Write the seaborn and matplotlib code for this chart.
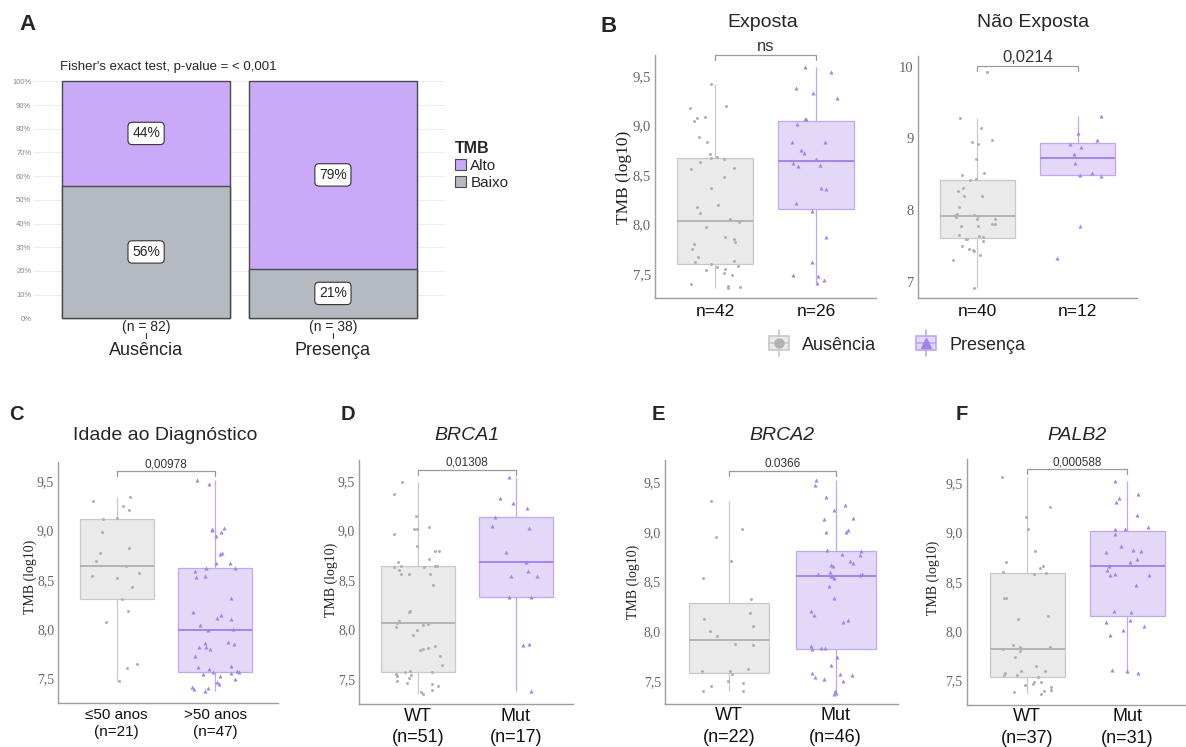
import numpy as np
import pandas as pd
import matplotlib
matplotlib.use("Agg")
import matplotlib.pyplot as plt
import seaborn as sns
from matplotlib.patches import Patch, Rectangle
from matplotlib.lines import Line2D
from matplotlib.legend_handler import HandlerBase
import matplotlib.transforms as mtrans

# ---------------- data ----------------
# Panel A
a_groups = ["Ausência", "Presença"]
a_n = [82, 38]
a_alto = [44, 79]
a_baixo = [56, 21]
a_ticks = list(range(0, 101, 10))
a_title = "Fisher's exact test, p-value = < 0,001"

# Panel B
b_groups = ["Ausência", "Presença"]
exp_aus = [9.42, 9.20, 9.18, 9.08, 9.07, 9.04, 8.88, 8.83, 8.71, 8.68, 8.67, 8.66, 8.63, 8.57,
           8.56, 8.48, 8.37, 8.20, 8.18, 8.12, 8.06, 8.02, 7.97, 7.87, 7.85, 7.82, 7.80, 7.75,
           7.67, 7.63, 7.62, 7.60, 7.58, 7.57, 7.55, 7.54, 7.51, 7.49, 7.40, 7.38, 7.37, 7.36]
exp_pre = [9.59, 9.54, 9.38, 9.33, 9.28, 9.06, 9.06, 9.01, 8.83, 8.83, 8.75, 8.72, 8.66, 8.62,
           8.60, 8.59, 8.37, 8.36, 8.22, 8.14, 7.87, 7.62, 7.49, 7.48, 7.44, 7.41]
nexp_aus = [6.91, 7.30, 7.37, 7.43, 7.44, 7.46, 7.49, 7.57, 7.59, 7.60, 7.62, 7.63, 7.65, 7.77,
            7.78, 7.80, 7.81, 7.87, 7.88, 7.90, 7.92, 7.93, 7.93, 7.95, 8.04, 8.20, 8.20, 8.27,
            8.30, 8.42, 8.43, 8.49, 8.52, 8.71, 8.92, 8.95, 8.98, 9.14, 9.29, 9.93]
nexp_pre = [9.31, 9.08, 8.98, 8.92, 8.88, 8.78, 8.66, 8.51, 8.49, 8.47, 7.77, 7.33]
b_p = ["ns", "0,0214"]
b_titles = ["Exposta", "Não Exposta"]
b_ticks_exp = [7.5, 8.0, 8.5, 9.0, 9.5]
b_ticks_nexp = [7, 8, 9, 10]

# Panel C
c_groups = ["≤50 anos", ">50 anos"]
age_le50 = [9.34, 9.30, 9.25, 9.21, 9.13, 9.12, 8.99, 8.82, 8.77, 8.69, 8.64, 8.57, 8.54, 8.52,
            8.43, 8.31, 8.18, 8.07, 7.65, 7.60, 7.47]
age_gt50 = [9.51, 9.47, 9.03, 9.02, 9.01, 8.99, 8.95, 8.77, 8.76, 8.67, 8.67, 8.62, 8.62, 8.59,
            8.54, 8.53, 8.32, 8.17, 8.14, 8.11, 8.10, 8.04, 8.00, 7.99, 7.87, 7.86, 7.85, 7.82,
            7.82, 7.80, 7.73, 7.62, 7.61, 7.59, 7.57, 7.56, 7.56, 7.55, 7.54, 7.52, 7.49, 7.46,
            7.44, 7.41, 7.40, 7.39, 7.37]

# Panels D-F
gene_groups = ["WT", "Mut"]
brca1_wt = [9.49, 9.37, 9.15, 9.03, 9.01, 9.01, 8.96, 8.84, 8.79, 8.79, 8.71, 8.68, 8.64, 8.64,
            8.64, 8.63, 8.63, 8.60, 8.56, 8.56, 8.56, 8.45, 8.19, 8.18, 8.09, 8.07, 8.06, 8.05,
            8.03, 8.00, 7.95, 7.84, 7.82, 7.81, 7.80, 7.73, 7.64, 7.58, 7.575, 7.57, 7.55, 7.54,
            7.53, 7.51, 7.48, 7.46, 7.45, 7.43, 7.39, 7.37, 7.35]
brca1_mut = [9.54, 9.33, 9.28, 9.23, 9.14, 9.04, 9.02, 8.78, 8.68, 8.59, 8.54, 8.54, 8.33, 8.33,
             7.86, 7.85, 7.38]
brca2_wt = [9.31, 9.03, 8.95, 8.71, 8.54, 8.32, 8.18, 8.12, 8.05, 8.00, 7.95, 7.87, 7.86, 7.62,
            7.60, 7.60, 7.57, 7.50, 7.48, 7.45, 7.40, 7.40]
brca2_mut = [9.52, 9.47, 9.35, 9.27, 9.22, 9.14, 9.13, 9.02, 9.00, 9.00, 8.82, 8.81, 8.78, 8.77,
             8.71, 8.69, 8.67, 8.66, 8.60, 8.58, 8.58, 8.57, 8.56, 8.56, 8.54, 8.45, 8.33, 8.20,
             8.16, 8.11, 8.09, 7.85, 7.83, 7.83, 7.82, 7.74, 7.66, 7.58, 7.57, 7.56, 7.54, 7.52,
             7.50, 7.40, 7.38, 7.37]
palb2_wt = [7.36, 7.38, 7.39, 7.40, 7.43, 7.45, 7.46, 7.48, 7.48, 7.53, 7.55, 7.55, 7.57, 7.59,
            7.59, 7.64, 7.73, 7.80, 7.82, 7.84, 7.84, 7.86, 8.12, 8.15, 8.34, 8.34, 8.58, 8.59,
            8.60, 8.64, 8.66, 8.70, 8.81, 9.04, 9.16, 9.26, 9.57]
palb2_mut = [9.53, 9.39, 9.35, 9.31, 9.18, 9.06, 9.04, 9.04, 8.99, 8.86, 8.82, 8.81, 8.80, 8.73,
             8.70, 8.66, 8.62, 8.58, 8.57, 8.57, 8.47, 8.20, 8.19, 8.11, 8.09, 8.05, 8.01, 7.96,
             7.60, 7.59, 7.57]
cf_titles = ["Idade ao Diagnóstico", "BRCA1", "BRCA2", "PALB2"]
cf_p = ["0,00978", "0,01308", "0.0366", "0,000588"]
cf_ticks = [7.5, 8.0, 8.5, 9.0, 9.5]

# ---------------- style ----------------
W, H = 1186, 747
sns.set_theme(style="white")
SANS = ["Liberation Sans", "DejaVu Sans"]
SERIF = ["Liberation Serif", "DejaVu Serif"]
plt.rcParams["font.family"] = SANS

ALTO = "#C9A9F8"
BAIXO = "#B5B9C2"
EDGE = "#4A4A4A"
GRAY = dict(fill="#EAEAEA", edge="#C9C9C9", med="#B0B0B0", pt="#B2B2B2", marker="o", size=2.2)
PURP = dict(fill="#E4D8F8", edge="#C2A6F3", med="#A27DEB", pt="#A084EA", marker="^", size=2.9)

fig = plt.figure(figsize=(W / 100, H / 100), dpi=100)


def add_ax(l, t, r, b):
    return fig.add_axes([l / W, 1 - b / H, (r - l) / W, (b - t) / H])


def fx(px):
    return px / W


def fy(py):
    return 1 - py / H


def comma(v, fmt="{:.1f}"):
    return fmt.format(v).replace(".", ",")


# ---------------- Panel A ----------------
axA = add_ax(34, 81.3, 445, 318.3)
dfA = pd.DataFrame({"grupo": a_groups, "alto": a_alto, "baixo": a_baixo})
dfA["total"] = dfA["alto"] + dfA["baixo"]
sns.barplot(data=dfA, x="grupo", y="total", order=a_groups, color=ALTO, saturation=1,
            width=0.9, edgecolor=EDGE, linewidth=1.0, errorbar=None, ax=axA,
            clip_on=False, zorder=2)
sns.barplot(data=dfA, x="grupo", y="baixo", order=a_groups, color=BAIXO, saturation=1,
            width=0.9, edgecolor=EDGE, linewidth=1.0, errorbar=None, ax=axA,
            clip_on=False, zorder=3)
axA.set_xlim(-0.6, 1.6)
axA.set_ylim(0, 100)
axA.set_yticks(a_ticks)
axA.set_yticklabels([f"{t}%" for t in a_ticks])
axA.grid(axis="y", color="#EDEDED", lw=0.8)
axA.grid(axis="x", visible=False)
axA.set_axisbelow(True)
for s in axA.spines.values():
    s.set_visible(False)
axA.tick_params(axis="y", length=0, labelsize=5.5, labelcolor="#8A8A8A", pad=2)
axA.tick_params(axis="x", length=0, labelsize=13, pad=17)
axA.set_xlabel("")
axA.set_ylabel("")
btA = mtrans.blended_transform_factory(axA.transData, axA.transAxes)
box_kw = dict(boxstyle="round,pad=0.3", fc="white", ec="#333333", lw=0.8)
for i, (al, ba, n) in enumerate(zip(a_alto, a_baixo, a_n)):
    axA.text(i, ba + al / 2, f"{al}%", ha="center", va="center", fontsize=10, bbox=box_kw, zorder=5)
    axA.text(i, ba / 2, f"{ba}%", ha="center", va="center", fontsize=10, bbox=box_kw, zorder=5)
    axA.text(i, -0.038, f"(n = {n})", transform=btA, ha="center", va="center", fontsize=10)
    axA.add_line(Line2D([i, i], [-0.064, -0.084], transform=btA, color="#333333", lw=0.8,
                        clip_on=False))
fig.text(fx(60), fy(66.7), a_title, fontsize=9.5, va="center", ha="left")
fig.legend(handles=[Patch(fc=ALTO, ec=EDGE, lw=0.8), Patch(fc=BAIXO, ec=EDGE, lw=0.8)],
           labels=["Alto", "Baixo"], title="TMB", loc="upper left",
           bbox_to_anchor=(fx(455), fy(141)), frameon=False, fontsize=11,
           title_fontproperties={"weight": "bold", "size": 11.5}, handlelength=0.75,
           handleheight=0.75, handletextpad=0.25, labelspacing=0.2, alignment="left",
           borderaxespad=0, borderpad=0)
fig.text(fx(27), fy(25), "A", fontsize=16, fontweight="bold", ha="center", va="center")


# ---------------- box panels ----------------
def box_panel(ax, cats, series, xlabels, ylim, xlim, ticks, ticklabels, tick_fs,
              xlab_fs, xlab_pad, linesp, seed):
    np.random.seed(seed)
    for cat, vals, st in zip(cats, series, [GRAY, PURP]):
        xs = [cat] * len(vals)
        sns.boxplot(x=xs, y=vals, order=cats, ax=ax, width=0.75, color=st["fill"],
                    linecolor=st["edge"], linewidth=0.9, saturation=1, showcaps=False,
                    showfliers=False, medianprops=dict(color=st["med"], linewidth=1.3))
        sns.stripplot(x=xs, y=vals, order=cats, ax=ax, jitter=0.25, color=st["pt"],
                      marker=st["marker"], size=st["size"], linewidth=0)
    ax.set_xlim(*xlim)
    ax.set_ylim(*ylim)
    ax.set_yticks(ticks)
    ax.set_yticklabels(ticklabels, family=SERIF, color="#666666", fontsize=tick_fs)
    ax.set_xticks(range(len(cats)))
    ax.set_xticklabels(xlabels, fontsize=xlab_fs, linespacing=linesp, color="#111111")
    ax.tick_params(axis="y", length=0, pad=3)
    ax.tick_params(axis="x", length=0, pad=xlab_pad)
    sns.despine(ax=ax)
    for s in ["left", "bottom"]:
        ax.spines[s].set_color("#9E9E9E")
        ax.spines[s].set_linewidth(1.0)
    ax.set_xlabel("")
    ax.set_ylabel("")


def bracket(ax, y, y_tick, y_text, label, fs):
    t = mtrans.blended_transform_factory(ax.transData, ax.transAxes)
    ax.add_line(Line2D([0, 0, 1, 1], [y_tick, y, y, y_tick], transform=t, color="#9A9A9A",
                       lw=0.9, clip_on=False))
    ax.text(0.5, y_text, label, transform=t, ha="center", va="center", fontsize=fs,
            color="#333333")


# Panel B
axBE = add_ax(655, 55, 876, 298)
box_panel(axBE, b_groups, [exp_aus, exp_pre],
          [f"n={len(exp_aus)}", f"n={len(exp_pre)}"],
          (7.258, 9.71), (-0.594, 1.594), b_ticks_exp, [comma(t) for t in b_ticks_exp],
          10.5, 12.5, 4.5, 1.2, 1)
bracket(axBE, 1.0, 0.979, 1.033, b_p[0], 12)

axBN = add_ax(918, 56, 1137, 298)
box_panel(axBN, b_groups, [nexp_aus, nexp_pre],
          [f"n={len(nexp_aus)}", f"n={len(nexp_pre)}"],
          (6.77, 10.15), (-0.59, 1.59), b_ticks_nexp, [str(t) for t in b_ticks_nexp],
          10.5, 12.5, 4.5, 1.2, 2)
bracket(axBN, 0.960, 0.939, 0.992, b_p[1], 12)

fig.text(fx(763), fy(22.5), b_titles[0], fontsize=14, ha="center", va="center")
fig.text(fx(1033), fy(22.5), b_titles[1], fontsize=14, ha="center", va="center")
fig.text(fx(624), fy(177), "TMB (log10)", rotation=90, family=SERIF, fontsize=12.5,
         ha="center", va="center", color="#222222")
fig.text(fx(609), fy(27), "B", fontsize=16, fontweight="bold", ha="center", va="center")


class BoxKey:
    def __init__(self, st):
        self.st = st


class BoxKeyHandler(HandlerBase):
    def create_artists(self, legend, orig_handle, xdescent, ydescent, width, height,
                       fontsize, trans):
        st = orig_handle.st
        x0, y0 = -xdescent, -ydescent
        cx, cy = x0 + width / 2, y0 + height / 2
        bw, bh = width * 0.95, height * 1.0
        wl = Line2D([cx, cx], [cy - height * 0.95, cy + height * 0.95], color=st["edge"],
                    lw=1.2, transform=trans)
        rect = Rectangle((cx - bw / 2, cy - bh / 2), bw, bh, facecolor=st["fill"],
                         edgecolor=st["edge"], lw=1.2, transform=trans)
        med = Line2D([cx - bw / 2, cx + bw / 2], [cy, cy], color=st["edge"], lw=1.2,
                     transform=trans)
        mk = Line2D([cx], [cy], marker=st["marker"], color=st["pt"], markersize=6.5, lw=0,
                    transform=trans)
        return [wl, rect, med, mk]


fig.legend(handles=[BoxKey(GRAY), BoxKey(PURP)], labels=b_groups,
           handler_map={BoxKey: BoxKeyHandler()}, loc="center",
           bbox_to_anchor=(fx(897), fy(345)), ncol=2, frameon=False, fontsize=13,
           handlelength=1.15, handleheight=0.8, handletextpad=0.7, columnspacing=2.2)

# Panels C-F
specs = [
    dict(box=(58.3, 461.7, 278, 702.7), ylim=(7.252, 9.70), xlim=(-0.593, 1.64),
         groups=c_groups, data=[age_le50, age_gt50], tx=165, yx=30, yy=577, lx=16,
         br=(0.961, 0.941, 0.990), fs=11, pad=3.5, linesp=1.3, italic=False),
    dict(box=(359.3, 460, 573.3, 704.3), ylim=(7.248, 9.71), xlim=(-0.594, 1.583),
         groups=gene_groups, data=[brca1_wt, brca1_mut], tx=466.7, yx=331.7, yy=580, lx=348,
         br=(0.959, 0.939, 0.989), fs=13, pad=2.5, linesp=1.35, italic=True),
    dict(box=(665, 460, 898.3, 704), ylim=(7.27, 9.72), xlim=(-0.6, 1.587),
         groups=gene_groups, data=[brca2_wt, brca2_mut], tx=781.7, yx=633, yy=582, lx=658,
         br=(0.956, 0.935, 0.984), fs=13, pad=2.5, linesp=1.35, italic=True),
    dict(box=(966.7, 459, 1186, 705), ylim=(7.246, 9.75), xlim=(-0.606, 1.587),
         groups=gene_groups, data=[palb2_wt, palb2_mut], tx=1076.7, yx=933.3, yy=578, lx=961.7,
         br=(0.959, 0.939, 0.985), fs=13, pad=2.5, linesp=1.35, italic=True),
]
letters = ["C", "D", "E", "F"]
for k, sp in enumerate(specs):
    ax = add_ax(*sp["box"])
    xl = [f"{g}\n(n={len(v)})" for g, v in zip(sp["groups"], sp["data"])]
    box_panel(ax, sp["groups"], sp["data"], xl, sp["ylim"], sp["xlim"], cf_ticks,
              [comma(t) for t in cf_ticks], 10, sp["fs"], sp["pad"], sp["linesp"], 10 + k)
    bracket(ax, sp["br"][0], sp["br"][1], sp["br"][2], cf_p[k], 8.5)
    fig.text(fx(sp["tx"]), fy(435), cf_titles[k], fontsize=14, ha="center", va="center",
             style="italic" if sp["italic"] else "normal")
    fig.text(fx(sp["yx"]), fy(sp["yy"]), "TMB (log10)", rotation=90, family=SERIF,
             fontsize=10, ha="center", va="center", color="#222222")
    fig.text(fx(sp["lx"]), fy(415), letters[k], fontsize=14.5, fontweight="bold",
             ha="center", va="center")

fig.savefig("out.png", dpi=100)
